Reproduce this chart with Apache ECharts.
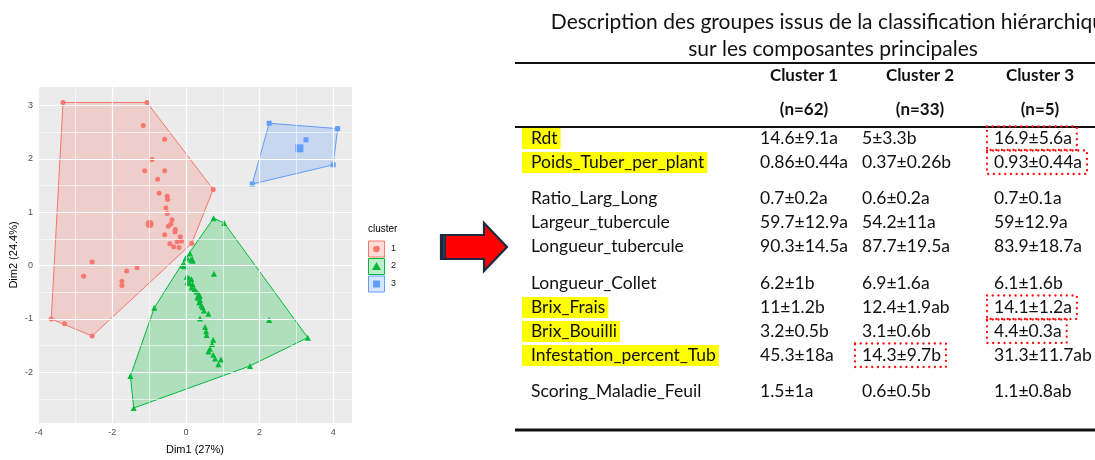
<!DOCTYPE html>
<html>
<head>
<meta charset="utf-8">
<script src="https://cdn.jsdelivr.net/npm/echarts@6/dist/echarts.min.js"></script>
<style>
  html, body { margin: 0; padding: 0; background: #fff; }
  #chart { width: 1095px; height: 460px; }
</style>
</head>
<body>
<div id="chart"></div>
<script>
  // --- scatter data (Dim1, Dim2) ---
  const cluster1 = [
    [-3.34, 3.06], [-1.06, 3.06], [0.74, 1.43], [0.155, 0.415], [-2.55, -1.32], [-3.66, -1.0], [-3.30, -1.09],
    [-1.16, 2.63], [-0.58, 2.37], [-0.92, 1.99], [-1.12, 1.78], [-0.58, 1.78], [-0.77, 1.62], [-0.73, 1.36],
    [-0.51, 1.30], [-0.50, 1.24], [-0.545, 1.08], [-0.51, 0.98], [-0.38, 0.86], [-0.41, 0.78], [-0.48, 0.74],
    [-0.29, 0.68], [-0.58, 0.58], [-0.30, 0.63], [-0.155, 0.54], [-0.12, 0.46], [-0.24, 0.45], [-0.44, 0.41],
    [-0.335, 0.355], [-0.19, 0.34], [-2.55, 0.07], [-2.78, -0.20], [-1.61, -0.10], [-1.33, -0.04],
    [-1.74, -0.29], [-1.74, -0.37]
  ];
  const cluster2 = [
    [0.75, 0.89], [1.04, 0.80], [3.31, -1.35], [1.74, -1.88], [-1.42, -2.67], [-1.51, -2.07], [-0.86, -0.79],
    [-0.10, 0.0], [-0.01, 0.14], [0.02, 0.16], [0.11, 0.23], [0.13, 0.11], [0.18, 0.09], [0.17, 0.12],
    [-0.05, 0.02], [-0.03, -0.01], [0.76, -0.15], [0.02, -0.21], [0.08, -0.23], [0.145, -0.25], [0.04, -0.31],
    [0.11, -0.33], [0.18, -0.35], [0.155, -0.41], [0.23, -0.44], [0.29, -0.49], [0.35, -0.55], [0.32, -0.60],
    [0.38, -0.64], [0.36, -0.69], [0.42, -0.74], [0.45, -0.78], [0.49, -0.84], [0.61, -0.90], [0.38, -0.99],
    [0.52, -1.15], [0.545, -1.23], [0.56, -1.30], [0.74, -1.39], [0.71, -1.47], [0.65, -1.56], [0.61, -1.61],
    [0.74, -1.67], [0.79, -1.74], [0.95, -1.76], [0.88, -1.85], [2.26, -1.02]
  ];
  const cluster3 = [[2.26, 2.67], [4.12, 2.57], [4.0, 1.89], [1.80, 1.53], [3.26, 2.36]];
  const centroids = [[-0.99, 0.78], [0.35, -0.55], [3.08, 2.2]];

  const xTicks = [-4, -2, 0, 2, 4];
  const xMinor = [-3, -1, 1, 3];
  const yTicks = [-2, -1, 0, 1, 2, 3];
  const yMinor = [-2.5, -1.5, -0.5, 0.5, 1.5, 2.5];
  const clusterNames = ['1', '2', '3'];

  // --- table data ---
  const titleLines = ['Description des groupes issus de la classification hiérarchique', 'sur les composantes principales'];
  const headers = ['Cluster 1', 'Cluster 2', 'Cluster 3'];
  const counts = ['(n=62)', '(n=33)', '(n=5)'];
  const rowLabels = ['Rdt', 'Poids_Tuber_per_plant', 'Ratio_Larg_Long', 'Largeur_tubercule', 'Longueur_tubercule',
    'Longueur_Collet', 'Brix_Frais', 'Brix_Bouilli', 'Infestation_percent_Tub', 'Scoring_Maladie_Feuil'];
  const rowGroup = [0, 0, 1, 1, 1, 2, 2, 2, 2, 3];
  const col1 = ['14.6±9.1a', '0.86±0.44a', '0.7±0.2a', '59.7±12.9a', '90.3±14.5a', '6.2±1b', '11±1.2b', '3.2±0.5b', '45.3±18a', '1.5±1a'];
  const col2 = ['5±3.3b', '0.37±0.26b', '0.6±0.2a', '54.2±11a', '87.7±19.5a', '6.9±1.6a', '12.4±1.9ab', '3.1±0.6b', '14.3±9.7b', '0.6±0.5b'];
  const col3 = ['16.9±5.6a', '0.93±0.44a', '0.7±0.1a', '59±12.9a', '83.9±18.7a', '6.1±1.6b', '14.1±1.2a', '4.4±0.3a', '31.3±11.7ab', '1.1±0.8ab'];
  const highlighted = [0, 1, 6, 7, 8];
  const boxedCells = [[0, 2], [1, 2], [6, 2], [7, 2], [8, 1]];

  const colors = ['#F8766D', '#00BA38', '#619CFF'];
  const symbols = ['circle', 'triangle', 'rect'];

  function alpha(hex, a) {
    const n = parseInt(hex.slice(1), 16);
    return 'rgba(' + (n >> 16) + ',' + ((n >> 8) & 255) + ',' + (n & 255) + ',' + a + ')';
  }

  function convexHull(pts) {
    const p = pts.slice().sort((a, b) => a[0] - b[0] || a[1] - b[1]);
    const cross = (o, a, b) => (a[0] - o[0]) * (b[1] - o[1]) - (a[1] - o[1]) * (b[0] - o[0]);
    const lower = [], upper = [];
    for (const q of p) {
      while (lower.length >= 2 && cross(lower[lower.length - 2], lower[lower.length - 1], q) <= 0) lower.pop();
      lower.push(q);
    }
    for (let i = p.length - 1; i >= 0; i--) {
      const q = p[i];
      while (upper.length >= 2 && cross(upper[upper.length - 2], upper[upper.length - 1], q) <= 0) upper.pop();
      upper.push(q);
    }
    return lower.slice(0, -1).concat(upper.slice(0, -1));
  }

  function hullSeries(points, color) {
    const hull = convexHull(points);
    return {
      type: 'custom',
      silent: true,
      z: 1,
      data: [hull[0]],
      renderItem: (params, api) => ({
        type: 'polygon',
        shape: { points: hull.map(h => api.coord(h)) },
        style: { fill: alpha(color, 0.25), stroke: color, lineWidth: 1 }
      })
    };
  }

  const clusters = [cluster1, cluster2, cluster3];
  const sizes = [5, 6, 5];
  const series = [];

  // grid lines (ggplot style) drawn as mark lines
  const gl = (key, v, w) => ({ [key]: v, lineStyle: { color: '#fff', width: w, type: 'solid' } });
  series.push({
    type: 'scatter', z: 0, silent: true, symbolSize: 0, data: [[0, 0]],
    markLine: {
      silent: true, symbol: 'none', animation: false, label: { show: false },
      data: [].concat(
        xMinor.map(v => gl('xAxis', v, 0.6)), yMinor.map(v => gl('yAxis', v, 0.6)),
        xTicks.map(v => gl('xAxis', v, 1.2)), yTicks.map(v => gl('yAxis', v, 1.2))
      )
    }
  });

  clusters.forEach((c, i) => series.push(hullSeries(c, colors[i])));
  clusters.forEach((c, i) => series.push({
    type: 'scatter', z: 3, name: clusterNames[i], data: c,
    symbol: symbols[i], symbolSize: sizes[i],
    itemStyle: { color: colors[i], opacity: 1 }
  }));
  centroids.forEach((c, i) => series.push({
    type: 'scatter', z: 4, data: [c], symbol: symbols[i], symbolSize: i === 1 ? 8 : 8,
    itemStyle: { color: colors[i], opacity: 1 }
  }));

  // --- graphics: legend, arrow, table ---
  const ctx = document.createElement('canvas').getContext('2d');
  const FONT = 'Lato, "Open Sans", sans-serif';
  function textW(s, size, weight) {
    ctx.font = (weight || 'normal') + ' ' + size + 'px ' + FONT;
    return ctx.measureText(s).width;
  }

  const g = [];
  // legend
  g.push({ type: 'text', left: 368, top: 224, style: { text: 'cluster', fill: '#000', font: '10px "Liberation Sans", Arial' } });
  clusters.forEach((c, i) => {
    const y = 241 + i * 17.5;
    g.push({ type: 'rect', shape: { x: 368.5, y: y, width: 16, height: 16 }, style: { fill: alpha(colors[i], 0.25), stroke: colors[i], lineWidth: 1 } });
    const cx = 376.5, cy = y + 8;
    if (i === 0) g.push({ type: 'circle', shape: { cx, cy, r: 3.3 }, style: { fill: colors[i] } });
    if (i === 1) g.push({ type: 'polygon', shape: { points: [[cx, cy - 4.5], [cx + 4.5, cy + 3.5], [cx - 4.5, cy + 3.5]] }, style: { fill: colors[i] } });
    if (i === 2) g.push({ type: 'rect', shape: { x: cx - 3.5, y: cy - 3.5, width: 7, height: 7 }, style: { fill: colors[i] } });
    g.push({ type: 'text', left: 391, top: y + 3, style: { text: clusterNames[i], fill: '#1a1a1a', font: '9px "Liberation Sans", Arial' } });
  });

  // arrow
  g.push({
    type: 'polygon', z: 10,
    shape: { points: [[441, 235], [484, 235], [484, 223], [507, 247], [484, 271], [484, 259], [441, 259]] },
    style: { fill: '#FF0000', stroke: '#1B2A41', lineWidth: 2.2, lineJoin: 'miter' }
  });
  g.push({ type: 'rect', z: 11, shape: { x: 441, y: 235, width: 5, height: 24 }, style: { fill: '#1B2A41' } });
  g.push({ type: 'line', z: 12, shape: { x1: 444, y1: 236, x2: 444, y2: 258 }, style: { stroke: '#3b4a66', lineWidth: 1 } });

  // table title
  titleLines.forEach((t, i) => g.push({
    type: 'text', z: 5, style: { text: t, x: 833, y: 22 + i * 27, textAlign: 'center', verticalAlign: 'middle', fill: '#111', font: '21px ' + FONT }
  }));
  // rules
  [[63, 2.2], [127, 2.2], [430, 3]].forEach(r => g.push({
    type: 'line', shape: { x1: 515, y1: r[0], x2: 1095, y2: r[0] }, style: { stroke: '#111', lineWidth: r[1] }
  }));
  const colCenters = [804, 920, 1040];
  headers.forEach((h, i) => {
    g.push({ type: 'text', style: { text: h, x: colCenters[i], y: 76, textAlign: 'center', verticalAlign: 'middle', fill: '#111', font: 'bold 17px ' + FONT } });
    g.push({ type: 'text', style: { text: counts[i], x: colCenters[i], y: 110, textAlign: 'center', verticalAlign: 'middle', fill: '#111', font: 'bold 17px ' + FONT } });
  });

  const rowY = [];
  rowLabels.forEach((_, i) => {
    rowY.push(i === 0 ? 138 : rowY[i - 1] + 24 + (rowGroup[i] !== rowGroup[i - 1] ? 12.5 : 0));
  });
  const colX = [760, 862, 994];
  const BODY = 17.5;
  highlighted.forEach(i => {
    const w = textW(rowLabels[i], BODY);
    g.push({ type: 'rect', z: 2, shape: { x: 522, y: rowY[i] - 10, width: 531 + w + 3 - 522, height: 21 }, style: { fill: '#FFFF00' } });
  });
  rowLabels.forEach((lab, i) => {
    g.push({ type: 'text', z: 5, style: { text: lab, x: 531, y: rowY[i], verticalAlign: 'middle', fill: '#111', font: BODY + 'px ' + FONT } });
    [col1, col2, col3].forEach((col, j) => g.push({
      type: 'text', z: 5, style: { text: col[i], x: colX[j], y: rowY[i], verticalAlign: 'middle', fill: '#111', font: BODY + 'px ' + FONT }
    }));
  });
  const cols = [col1, col2, col3];
  boxedCells.forEach(([r, c]) => {
    const w = textW(cols[c][r], BODY);
    g.push({
      type: 'rect', z: 6,
      shape: { x: colX[c] - 7, y: rowY[r] - 11.5, width: w + 12, height: 23.5 },
      style: { fill: 'none', stroke: '#FF1010', lineWidth: 2.3, lineDash: [0.1, 5.6], lineCap: 'round' }
    });
  });

  const chart = echarts.init(document.getElementById('chart'));
  chart.setOption({
    animation: false,
    backgroundColor: '#fff',
    grid: { left: 38, right: 743, top: 87, bottom: 30, show: true, backgroundColor: '#EBEBEB', borderWidth: 0 },
    xAxis: {
      type: 'value', min: -4.02, max: 4.51,
      splitLine: { show: false }, axisLine: { show: false },
      axisTick: { show: true, customValues: xTicks, length: 3, lineStyle: { color: '#333' } },
      axisLabel: { customValues: xTicks, color: '#4D4D4D', fontSize: 9, margin: 5, fontFamily: '"Liberation Sans", Arial' },
      name: 'Dim1 (27%)', nameLocation: 'middle', nameGap: 21,
      nameTextStyle: { color: '#000', fontSize: 11, fontFamily: '"Liberation Sans", Arial' }
    },
    yAxis: {
      type: 'value', min: -2.95, max: 3.35,
      splitLine: { show: false }, axisLine: { show: false },
      axisTick: { show: true, customValues: yTicks, length: 3, lineStyle: { color: '#333' } },
      axisLabel: { customValues: yTicks, color: '#4D4D4D', fontSize: 9, margin: 5, fontFamily: '"Liberation Sans", Arial' },
      name: 'Dim2 (24.4%)', nameLocation: 'middle', nameGap: 19,
      nameTextStyle: { color: '#000', fontSize: 11, fontFamily: '"Liberation Sans", Arial' }
    },
    series: series,
    graphic: g
  });
</script>
</body>
</html>
